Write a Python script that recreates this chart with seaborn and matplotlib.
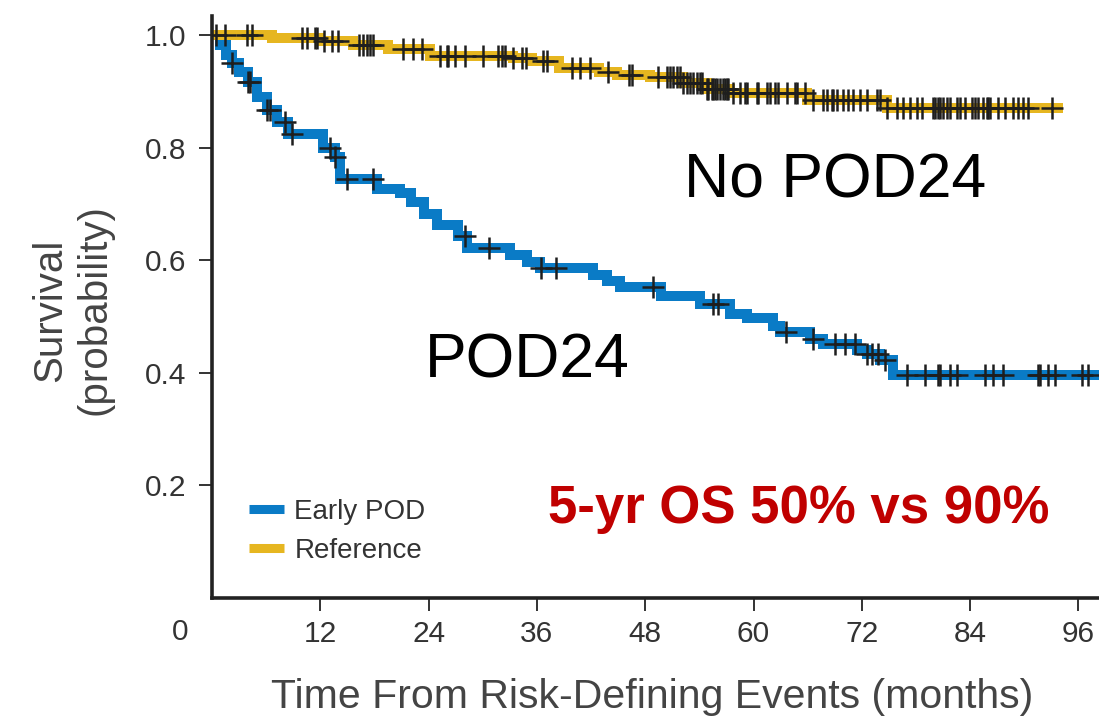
import numpy as np
import pandas as pd
import matplotlib
matplotlib.use("Agg")
import matplotlib.pyplot as plt
import seaborn as sns
from matplotlib.lines import Line2D

# ---------------- data (months, survival probability) ----------------
blue_t = [0, 0.9, 1.5, 2.2, 3.0, 4.0, 5.0, 6.1, 7.2, 8.4, 12.3, 13.6, 14.2, 18.3,
          20.8, 22.0, 23.5, 24.9, 27.3, 28.2, 33.0, 34.9, 36.3, 42.2, 43.8, 45.2,
          49.7, 54.1, 57.4, 59.3, 62.2, 62.9, 66.3, 67.7, 71.5, 72.6, 74.0, 75.5, 99.0]
blue_s = [1.0, 0.982, 0.965, 0.95, 0.935, 0.916, 0.89, 0.867, 0.845, 0.824, 0.80, 0.783,
          0.745, 0.726, 0.72, 0.703, 0.683, 0.662, 0.644, 0.621, 0.609, 0.597, 0.587,
          0.573, 0.564, 0.553, 0.537, 0.522, 0.505, 0.497, 0.484, 0.472, 0.461, 0.452,
          0.44, 0.434, 0.422, 0.397, 0.397]
blue_cens = [2.2, 4.0, 4.2, 6.1, 6.4, 8.1, 8.9, 13.1, 13.6, 15.0, 17.8, 28.0, 30.7,
             36.5, 38.1, 48.9, 55.5, 56.1, 63.6, 66.6, 69.0, 70.1, 71.2, 72.6, 73.1,
             73.8, 74.6, 77.0, 79.0, 80.4, 80.7, 81.8, 82.5, 85.6, 86.5, 87.6, 91.5,
             91.7, 92.6, 93.4, 96.4, 97.1]

yellow_t = [0, 6.6, 12.0, 15.6, 19.5, 24.2, 33.3, 35.5, 38.5, 42.9, 44.9, 48.5, 52.2,
            54.8, 57.4, 65.9, 74.8, 94.3]
yellow_s = [1.0, 0.995, 0.989, 0.982, 0.975, 0.963, 0.959, 0.954, 0.941, 0.934, 0.93,
            0.925, 0.915, 0.904, 0.897, 0.884, 0.870, 0.870]
yellow_cens = [0.4, 1.4, 3.9, 4.4, 10.0, 10.5, 11.4, 11.6, 12.4, 13.3, 14.0, 16.3, 16.7,
               17.2, 17.5, 17.8, 21.2, 22.3, 23.3, 25.3, 26.0, 26.2, 26.9, 28.0, 30.0,
               31.7, 32.1, 32.5, 33.4, 34.4, 34.8, 36.7, 37.1, 39.9, 40.8, 41.9, 43.9,
               46.2, 46.5, 49.4, 50.4, 50.8, 51.1, 51.5, 51.9, 52.2, 52.6, 53.0, 53.3,
               53.7, 54.1, 54.3, 54.9, 55.0, 55.4, 55.5, 55.7, 56.0, 56.3, 56.6, 56.8,
               57.1, 57.2, 57.7, 58.5, 59.1, 59.3, 60.4, 60.5, 61.5, 61.8, 62.4, 62.7,
               63.7, 64.6, 64.8, 65.7, 66.6, 67.7, 68.1, 68.7, 68.8, 69.3, 69.9, 70.5,
               71.0, 71.8, 72.6, 73.7, 74.0, 74.8, 75.9, 76.6, 77.3, 78.1, 78.7, 79.9,
               80.1, 80.4, 80.7, 81.0, 81.4, 81.8, 82.6, 82.9, 83.4, 84.2, 84.5, 84.9,
               85.4, 85.9, 86.0, 86.2, 87.1, 87.9, 88.8, 89.3, 89.9, 90.4, 93.1]

groups = ["Early POD", "Reference"]
x_ticks = [12, 24, 36, 48, 60, 72, 84, 96]
y_ticks = [0.2, 0.4, 0.6, 0.8, 1.0]

BLUE = "#0a7bc6"
GOLD = "#e6b620"
palette = {"Early POD": BLUE, "Reference": GOLD}

curves = pd.concat([
    pd.DataFrame({"month": blue_t, "surv": blue_s, "group": groups[0]}),
    pd.DataFrame({"month": yellow_t, "surv": yellow_s, "group": groups[1]}),
], ignore_index=True)


def step_value(t, s, c):
    idx = np.searchsorted(np.asarray(t), np.asarray(c), side="right") - 1
    return np.asarray(s)[idx]


cens = pd.concat([
    pd.DataFrame({"month": blue_cens, "surv": step_value(blue_t, blue_s, blue_cens)}),
    pd.DataFrame({"month": yellow_cens, "surv": step_value(yellow_t, yellow_s, yellow_cens)}),
], ignore_index=True)

# ---------------- figure ----------------
sns.set_theme(style="white")
plt.rcParams["font.family"] = ["Liberation Sans", "DejaVu Sans"]

W, H = 1099, 725
fig = plt.figure(figsize=(W / 100, H / 100), dpi=100)
ax = fig.add_axes([212 / W, 1 - 598 / H, 1 - 212 / W, (598 - 16) / H])

sns.lineplot(data=curves, x="month", y="surv", hue="group", palette=palette,
             hue_order=groups, estimator=None, sort=False, drawstyle="steps-post",
             lw=7.2, legend=False, ax=ax, solid_joinstyle="miter", solid_capstyle="butt")
sns.scatterplot(data=cens, x="month", y="surv", marker="+", s=260, color="#1e1e1e",
                linewidth=1.8, ax=ax, zorder=5, legend=False)

ax.set_xlim(0, (W - 212) / 9.025)
ax.set_ylim(0, 1.034)
ax.set_xlabel("")
ax.set_ylabel("")

for side in ["top", "right"]:
    ax.spines[side].set_visible(False)
for side in ["left", "bottom"]:
    ax.spines[side].set_linewidth(2.6)
    ax.spines[side].set_color("#222222")

ax.set_xticks(x_ticks)
ax.set_xticklabels([str(v) for v in x_ticks])
ax.set_yticks(y_ticks)
ax.set_yticklabels([f"{v:.1f}" for v in y_ticks])
ax.tick_params(axis="both", direction="out", length=9.5, width=1.4, color="#333333",
               labelsize=21.5, labelcolor="#333333", left=True, bottom=True)
ax.tick_params(axis="x", pad=6)
ax.tick_params(axis="y", pad=9)

ax.annotate("0", xy=(0, 0), xycoords="axes fraction", xytext=(-32, -20),
            textcoords="offset pixels", ha="center", va="top", fontsize=21.5,
            color="#333333")

fig.text(652 / W, 1 - 697 / H, "Time From Risk-Defining Events (months)",
         ha="center", va="center", fontsize=29.5, color="#444444")
fig.text(72 / W, 1 - 310 / H, "Survival\n(probability)", rotation=90,
         ha="center", va="center", fontsize=29, color="#444444",
         linespacing=1.2, multialignment="center")

handles = [Line2D([], [], color=palette[g], lw=6.5, solid_capstyle="butt") for g in groups]
ax.legend(handles, groups, loc="upper left", bbox_to_anchor=(249 / W, 1 - 499 / H),
          bbox_transform=fig.transFigure, frameon=False, fontsize=20,
          handlelength=1.25, handletextpad=0.38, labelspacing=0.45, borderpad=0,
          borderaxespad=0, labelcolor="#333333")

ax.text(69.0, 0.712, "No POD24", ha="center", va="baseline", fontsize=45, color="black")
ax.text(34.9, 0.392, "POD24", ha="center", va="baseline", fontsize=45, color="black")
ax.text(65.0, 0.1325, "5-yr OS 50% vs 90%", ha="center", va="baseline", fontsize=38,
        fontweight="bold", color="#c00000")

fig.savefig("out.png", dpi=100)
